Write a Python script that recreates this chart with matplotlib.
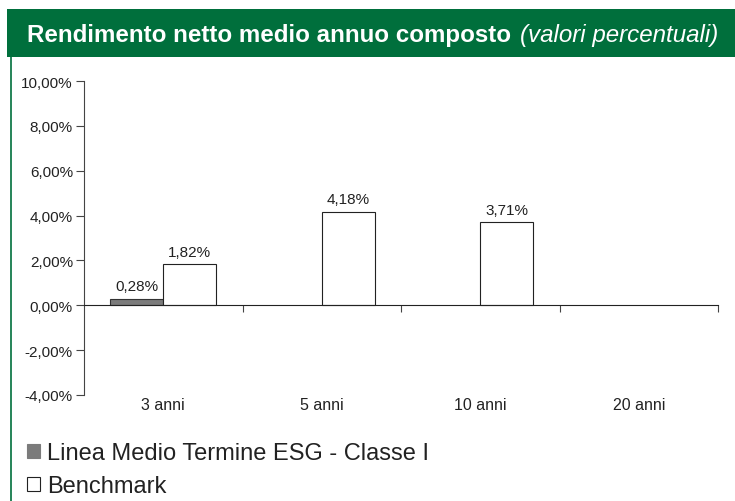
import numpy as np
import matplotlib
matplotlib.use('Agg')
import matplotlib.pyplot as plt
from matplotlib.patches import Rectangle, Patch
from matplotlib.lines import Line2D
from matplotlib.transforms import blended_transform_factory

# -------------------- Data --------------------
CATEGORIES = ['3 anni', '5 anni', '10 anni', '20 anni']
LINEA = [0.28, np.nan, np.nan, np.nan]          # Linea Medio Termine ESG - Classe I
BENCHMARK = [1.82, 4.18, 3.71, np.nan]
Y_TICKS = [-4, -2, 0, 2, 4, 6, 8, 10]
SERIES_NAMES = ['Linea Medio Termine ESG - Classe I', 'Benchmark']
# ----------------------------------------------

GREEN = '#006f3c'
DARK = '#7b7b7b'
plt.rcParams['font.family'] = ['Liberation Sans', 'DejaVu Sans']

W, H = 735, 502
fig = plt.figure(figsize=(W / 100, H / 100), dpi=100)


def px(x, y):
    """pixel coords (top-left origin) -> figure fraction"""
    return x / W, 1 - y / H


# header band
fig.patches.append(Rectangle(px(7, 58), 1 - 7 / W, 48 / H, transform=fig.transFigure,
                             facecolor=GREEN, edgecolor='none'))
# left green border
fig.lines.append(Line2D([10.5 / W, 10.5 / W], [0, 1 - 58 / H], transform=fig.transFigure,
                        color=GREEN, lw=1.2))

t1 = fig.text(*px(27, 35.5), 'Rendimento netto medio annuo composto', color='white',
              fontsize=17.4, fontweight='bold', va='center', ha='left')
fig.canvas.draw()
bb = t1.get_window_extent()
fig.text((bb.x1 + 9) / W, 1 - 35.5 / H, '(valori percentuali)', color='white',
         fontsize=17.4, fontstyle='italic', va='center', ha='left')

ax = fig.add_axes([84 / W, 1 - 396 / H, (718 - 84) / W, (396 - 82) / H])
x = np.arange(len(CATEGORIES))
bw = 0.334
b1 = ax.bar(x - bw / 2, LINEA, bw, color=DARK, edgecolor='#333333', lw=0.8)
b2 = ax.bar(x + bw / 2, BENCHMARK, bw, color='white', edgecolor='#222222', lw=0.8)

for bars, vals in ((b1, LINEA), (b2, BENCHMARK)):
    for rect, v in zip(bars, vals):
        if np.isnan(v):
            continue
        ax.annotate(f'{v:.2f}%'.replace('.', ','),
                    (rect.get_x() + rect.get_width() / 2, v),
                    xytext=(0, 4), textcoords='offset points',
                    ha='center', va='bottom', fontsize=11, color='#222222')

ax.set_xlim(-0.5, len(CATEGORIES) - 0.5)
ax.set_ylim(-4, 10)
ax.set_yticks(Y_TICKS)
ax.set_yticklabels([f'{v:.2f}%'.replace('.', ',') for v in Y_TICKS])
ax.tick_params(axis='y', labelsize=11, length=6, width=0.8, color='#444444',
               labelcolor='#222222', pad=2)

ax.spines['top'].set_visible(False)
ax.spines['right'].set_visible(False)
ax.spines['left'].set_color('#444444')
ax.spines['left'].set_linewidth(0.8)
ax.spines['bottom'].set_position(('data', 0))
ax.spines['bottom'].set_color('#222222')
ax.spines['bottom'].set_linewidth(0.8)
ax.set_xticks(x + 0.5)
ax.set_xticklabels([])
ax.tick_params(axis='x', length=5, width=0.8, color='#444444')

trans = blended_transform_factory(ax.transData, ax.transAxes)
for xi, lab in zip(x, CATEGORIES):
    ax.text(xi, -0.029, lab, transform=trans, ha='center', va='center',
            fontsize=11.5, color='#222222')

handles = [Patch(facecolor=DARK, edgecolor=DARK, lw=0.8),
           Patch(facecolor='white', edgecolor='#222222', lw=0.8)]
leg = fig.legend(handles, SERIES_NAMES, loc='upper left', bbox_to_anchor=px(27, 443),
                 frameon=False, fontsize=17, handlelength=0.55, handleheight=0.55,
                 handletextpad=0.3, labelspacing=0.47, borderaxespad=0, borderpad=0)
for t in leg.get_texts():
    t.set_color('#222222')

fig.savefig('out.png', dpi=100)
